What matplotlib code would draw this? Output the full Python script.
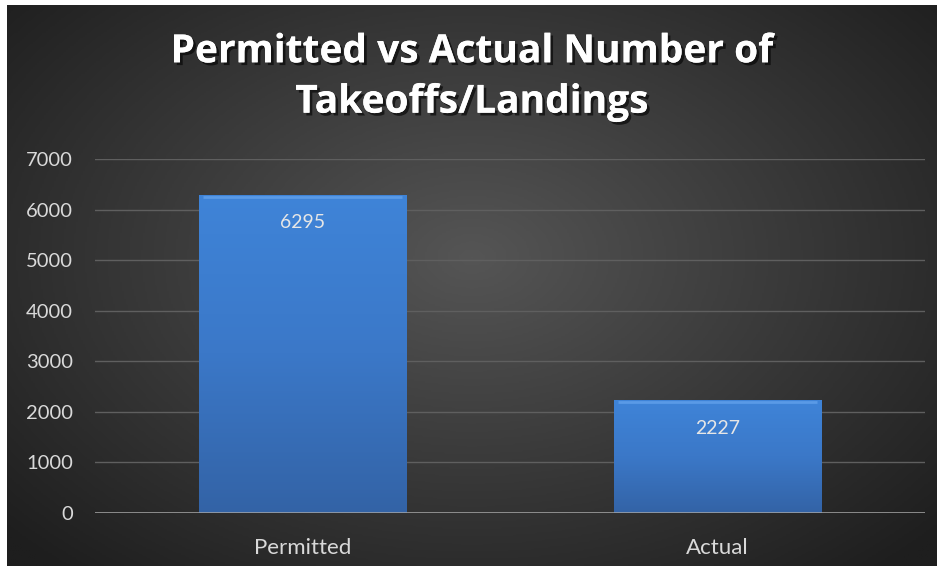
import numpy as np
import matplotlib
matplotlib.use('Agg')
import matplotlib.pyplot as plt
import matplotlib.patheffects as pe
from matplotlib.colors import LinearSegmentedColormap

categories = ['Permitted', 'Actual']
counts = [6295, 2227]
yticks = [0, 1000, 2000, 3000, 4000, 5000, 6000, 7000]
title = 'Permitted vs Actual Number of\nTakeoffs/Landings'

plt.rcParams['font.family'] = ['Lato', 'DejaVu Sans']

W, H = 943, 571
fig = plt.figure(figsize=(W / 100, H / 100), dpi=100, facecolor='white')

# dark radial background panel (white frame around it)
bg = fig.add_axes([7 / W, 5 / H, (937 - 7) / W, (566 - 5) / H])
yy, xx = np.mgrid[-1:1:300j, -1:1:500j]
r = np.sqrt((xx / 1.0) ** 2 + ((yy + 0.1) / 1.1) ** 2)
shade = np.clip(1 - r / 1.35, 0, 1)
bg_cmap = LinearSegmentedColormap.from_list('bg', ['#1e1e1e', '#555555'])
bg.imshow(shade, cmap=bg_cmap, aspect='auto', extent=(0, 1, 0, 1), vmin=0, vmax=1)
bg.set_axis_off()

ax = fig.add_axes([95 / W, 1 - 513 / H, (925 - 95) / W, (513 - 159) / H])
ax.patch.set_alpha(0)

x = np.arange(len(categories))
bars = ax.bar(x, counts, width=0.5, color='#3a76c6', zorder=2)

# vertical gradient inside each bar
grad = np.linspace(0, 1, 256).reshape(-1, 1)
bar_cmap = LinearSegmentedColormap.from_list('bar', ['#3363a6', '#3b78c8', '#3f84d8'])
for b in bars:
    bx, by, bw, bh = b.get_x(), b.get_y(), b.get_width(), b.get_height()
    im = ax.imshow(grad, cmap=bar_cmap, aspect='auto', origin='lower',
                   extent=(bx, bx + bw, by, by + bh), zorder=3)
    im.set_clip_path(b)
    # light bevel on top
    ax.plot([bx + 0.01, bx + bw - 0.01], [by + bh - 40, by + bh - 40],
            color='#5a9ae6', lw=2, zorder=4, solid_capstyle='butt')

for xi, v in zip(x, counts):
    ax.text(xi, v - 560, str(v), ha='center', va='center',
            color='#e6e6e6', fontsize=14, zorder=5)

ax.set_xlim(-0.5, 1.5)
ax.set_ylim(0, 7000)
ax.set_yticks(yticks)
ax.set_xticks(x)
ax.set_xticklabels(categories)
ax.yaxis.grid(True, color='#5f5f5f', lw=1)
ax.set_axisbelow(True)
ax.axhline(0, color='#a6a6a6', lw=1.8, zorder=4)
for s in ax.spines.values():
    s.set_visible(False)
ax.tick_params(axis='both', length=0, colors='#d9d9d9')
ax.tick_params(axis='y', pad=16, labelsize=14.5)
ax.tick_params(axis='x', pad=18, labelsize=16)

fig.text(0.5, 1 - 77 / H, title, ha='center', va='center', color='white',
         fontsize=28, fontweight='bold', linespacing=1.38,
         family=['Open Sans', 'DejaVu Sans'],
         path_effects=[pe.withSimplePatchShadow(offset=(2, -2), shadow_rgbFace='black', alpha=0.6),
                       pe.Normal()])

fig.savefig('out.png', dpi=100, facecolor='white')
